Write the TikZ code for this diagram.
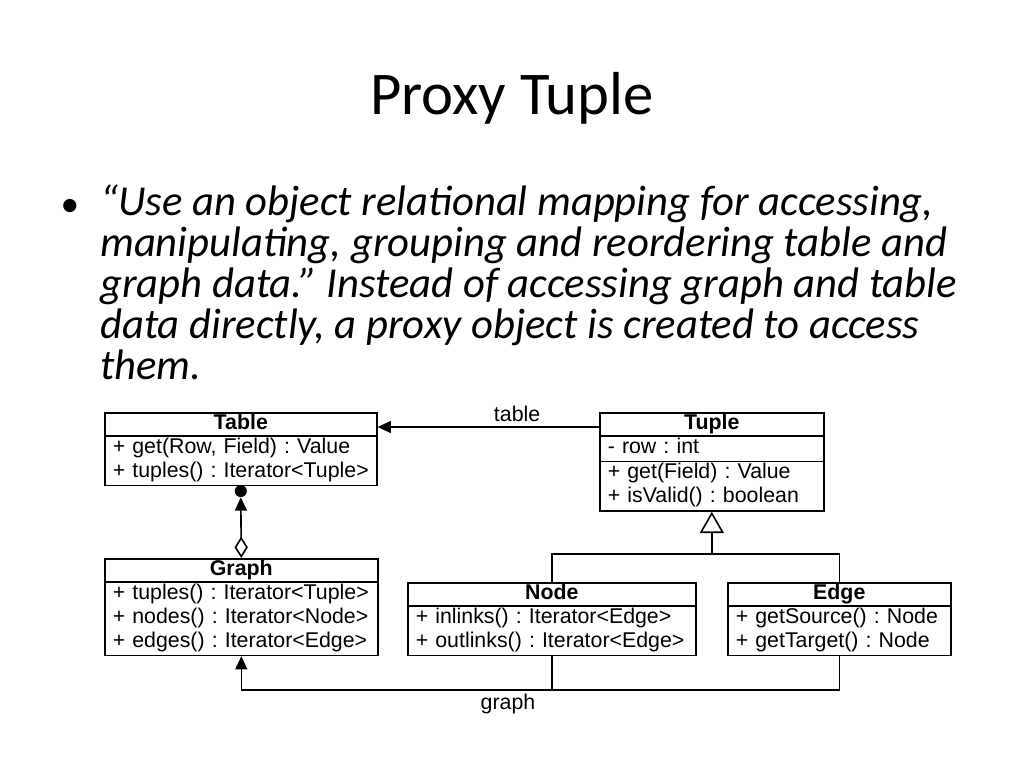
\documentclass[tikz,border=0pt]{standalone}
\usepackage{fontspec}
\setmainfont{Carlito}
\newfontfamily\umlsans{Liberation Sans}
\usetikzlibrary{shapes,shapes.multipart,arrows,arrows.meta,positioning,calc}
\frenchspacing
\newcommand{\hdstrut}{\rule[-4.4pt]{0pt}{13.4pt}}
\newcommand{\umlhead}[1]{\hfill\textbf{#1}\hfill\hdstrut}

\tikzset{
  umlclass/.style={draw, line width=1.2pt, rectangle split, rectangle split parts=#1,
    align=left, inner xsep=6pt, inner ysep=0pt, anchor=north west,
    font=\umlsans\fontsize{16}{18}\selectfont},
  umlline/.style={line width=1.2pt},
  umllabel/.style={font=\umlsans\fontsize{16}{18}\selectfont, inner sep=1pt},
  filltip/.style={-{Triangle[length=10pt,width=9pt]}},
  gentip/.style={-{Triangle[open,length=16pt,width=18pt,fill=white]}},
  dotmark/.style={circle, fill=black, inner sep=0pt, minimum size=9pt}
}

\begin{document}
\begin{tikzpicture}[x=0.75pt,y=-0.75pt]
    \useasboundingbox[fill=white] (0,0) rectangle (1024,768);

    % Title
    \node[font=\fontsize{45.5}{50}\selectfont] (title) at (512,98) {Proxy Tuple};

    % Bullet text
    \node[anchor=base, font=\fontsize{28}{31}\selectfont] (bullet) at (70,216) {\textbullet};
    \node[anchor=north west, align=left, inner sep=0pt,
          font=\itshape\fontsize{32}{30.75}\selectfont] (quote) at (100,185)
        {“Use an object relational mapping for accessing,\\
         manipulating, grouping and reordering table and\\
         graph data.” Instead of accessing graph and table\\
         data directly, a proxy object is created to access\\
         them.};

    % Classes
    \node[umlclass=2, text width=192pt] (tab) at (104,412)
        {\umlhead{Table}
         \nodepart{two}+ get(Row, Field) : Value\strut\\+ tuples() : Iterator<Tuple>\strut};
    \node[umlclass=3, text width=156pt] (tup) at (599,412)
        {\umlhead{Tuple}
         \nodepart{two}- row : int\strut
         \nodepart{three}+ get(Field) : Value\strut\\+ isValid() : boolean\strut};
    \node[umlclass=2, text width=192.75pt] (gra) at (104,558)
        {\umlhead{Graph}
         \nodepart{two}+ tuples() : Iterator<Tuple>\strut\\+ nodes() : Iterator<Node>\strut\\+ edges() : Iterator<Edge>\strut};
    \node[umlclass=2, text width=204pt] (nod) at (407,582)
        {\umlhead{Node}
         \nodepart{two}+ inlinks() : Iterator<Edge>\strut\\+ outlinks() : Iterator<Edge>\strut};
    \node[umlclass=2, text width=155.25pt] (edg) at (727,582)
        {\umlhead{Edge}
         \nodepart{two}+ getSource() : Node\strut\\+ getTarget() : Node\strut};

    % Tuple -> Table
    \draw[umlline, filltip] ($(tup.north west)+(0,15)$) -- ($(tab.north east)+(0,15)$)
        node[umllabel, pos=0.37, above=2pt] (tablbl) {table};

    % Graph <>-> Table
    \node[dotmark, below=-1pt of tab.south] (tdot) {};
    \draw[umlline, {Diamond[open,length=16pt,width=10pt,fill=white]}-{Triangle[length=10pt,width=9pt]}]
        (gra.north) -- (tdot.south);

    % Node, Edge inherit Tuple
    \coordinate (gen) at ($(tup.south)+(0,42)$);
    \draw[umlline] (nod.north) |- (gen) -| (edg.north);
    \draw[umlline, gentip] (gen) -- (tup.south);

    % Node, Edge -> Graph
    \coordinate (gbus) at ($(gra.south)+(0,34)$);
    \draw[umlline, filltip] (edg.south) |- (gbus) -- (gra.south);
    \draw[umlline] (nod.south) -- (nod.south |- gbus);
    \node[umllabel, below=4pt] (graphlbl) at (508,687) {graph};
\end{tikzpicture}
\end{document}
